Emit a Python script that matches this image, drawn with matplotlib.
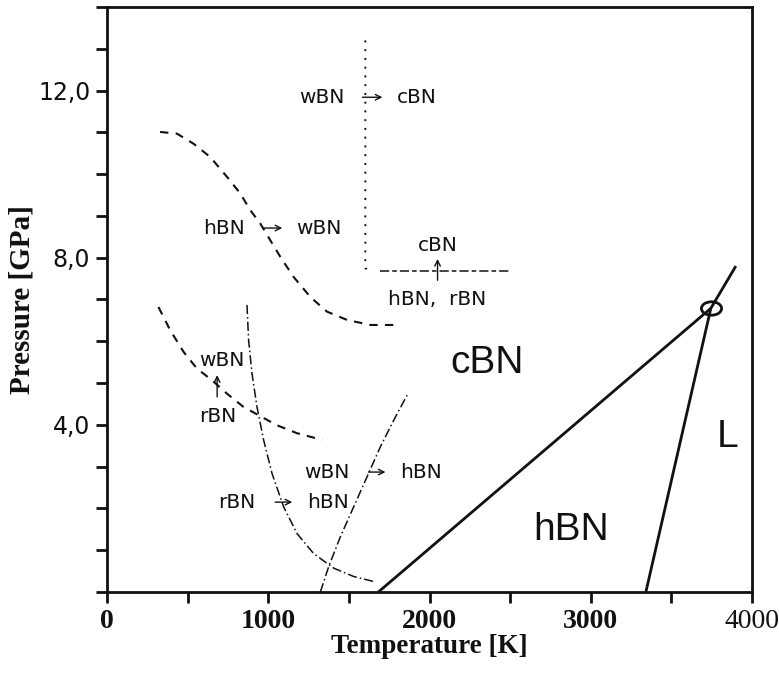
###############################################################################
#  IMPORTS
###############################################################################
import matplotlib
matplotlib.use("Agg")
import matplotlib.pyplot as plt
from matplotlib.path import Path
from matplotlib.transforms import Affine2D

###############################################################################
#  DATA (temperature in K, pressure in GPa)
###############################################################################

# hBN / cBN equilibrium line, through the triple point
HC_T = [1683, 3745, 3900]
HC_P = [0.0, 6.79, 7.80]

# hBN melting line up to the triple point
MELT_T = [3342, 3745]
MELT_P = [0.0, 6.79]

TRIPLE_T = [3745]
TRIPLE_P = [6.79]

# hBN -> wBN kinetic boundary
HW_T = [329, 433, 536, 640, 743, 826, 888, 950, 1012, 1075, 1157, 1261,
        1364, 1489, 1634, 1789]
HW_P = [11.01, 10.97, 10.73, 10.41, 9.94, 9.54, 9.14, 8.82, 8.42, 8.02,
        7.54, 7.06, 6.71, 6.51, 6.39, 6.39]

# rBN -> wBN kinetic boundary
RW_T = [319, 391, 474, 557, 650, 743, 846, 940, 1054, 1178, 1334]
RW_P = [6.82, 6.27, 5.75, 5.35, 5.07, 4.75, 4.43, 4.23, 3.99, 3.80, 3.64]

# rBN -> hBN boundary
RH_T = [868, 878, 899, 930, 971, 1023, 1095, 1178, 1281, 1406, 1530, 1654]
RH_P = [6.87, 6.03, 5.23, 4.43, 3.64, 2.84, 2.04, 1.40, 0.92, 0.57, 0.37, 0.25]

# wBN -> hBN boundary
WH_T = [1323, 1375, 1447, 1530, 1613, 1696, 1778, 1861]
WH_P = [0.0, 0.61, 1.32, 2.04, 2.76, 3.48, 4.11, 4.71]

# wBN -> cBN boundary (vertical) and hBN, rBN -> cBN boundary (horizontal)
WC_T = [1602, 1602, 1630]
WC_P = [13.2, 7.75, 7.68]
HRC_T = [1696, 2491]
HRC_P = [7.68, 7.68]

X_TICKS = [0, 500, 1000, 1500, 2000, 2500, 3000, 3500, 4000]
X_TICK_LABELS = ["0", "", "1000", "", "2000", "", "3000", "", "4000"]
Y_TICKS = list(range(0, 15))
Y_TICK_LABELS = ["4,0" if p == 4 else "8,0" if p == 8 else "12,0" if p == 12 else ""
                 for p in Y_TICKS]

# small transition labels: (text, T, P)
SMALL_LABELS = [
    ("wBN", 1335, 11.84), ("cBN", 1919, 11.84),
    ("hBN", 727, 8.71), ("wBN", 1311, 8.71),
    ("cBN", 2050, 8.30), ("hBN,  rBN", 2050, 6.99),
    ("wBN", 714, 5.55), ("rBN", 689, 4.19),
    ("wBN", 1366, 2.87), ("hBN", 1950, 2.87),
    ("rBN", 807, 2.15), ("hBN", 1373, 2.15),
]
# arrows: (T_start, P_start, T_end, P_end)
ARROWS = [
    (1584, 11.84, 1708, 11.84),
    (969, 8.71, 1087, 8.71),
    (2050, 7.46, 2050, 7.97),
    (683, 4.67, 683, 5.19),
    (1621, 2.87, 1727, 2.87),
    (1043, 2.15, 1149, 2.15),
]
# phase field labels
BIG_LABELS = [("cBN", 2360, 5.48), ("hBN", 2876, 1.48), ("L", 3851, 3.7)]

###############################################################################
#  STYLE CONSTANTS
###############################################################################
FIGSIZE = (7.79, 6.74)
DPI = 100
INK = "#111111"
SANS = "Liberation Sans"
WIDE_SANS = "DejaVu Sans"
SERIF = "Liberation Serif"

# flat ellipse marker for the triple point
ELLIPSE = Path.unit_circle().transformed(Affine2D().scale(1.5, 1.0))

###############################################################################
#  PLOT
###############################################################################
fig = plt.figure(figsize=FIGSIZE, dpi=DPI)
ax = fig.add_axes([0.1374, 0.1217, 0.8279, 0.8679])

ax.plot(HC_T, HC_P, color=INK, lw=2.0, solid_capstyle="butt")
ax.plot(MELT_T, MELT_P, color=INK, lw=2.0, solid_capstyle="butt")
ax.plot(TRIPLE_T, TRIPLE_P, marker=ELLIPSE, ls="none", ms=14.5,
        mfc="none", mec=INK, mew=2.0)

ax.plot(HW_T, HW_P, color=INK, lw=1.5, dashes=(4, 3.5))
ax.plot(RW_T, RW_P, color=INK, lw=1.5, dashes=(4, 3.5))
ax.plot(RH_T, RH_P, color=INK, lw=1.1, dashes=(6, 2, 1, 2))
ax.plot(WH_T, WH_P, color=INK, lw=1.1, dashes=(6, 2, 1, 2))
ax.plot(WC_T, WC_P, color=INK, lw=1.4, dashes=(1, 3.5))
ax.plot(HRC_T, HRC_P, color=INK, lw=1.1, dashes=(6, 2, 3, 2))

for text, t, p in SMALL_LABELS:
    ax.text(t, p, text, fontsize=14.5, family=WIDE_SANS, color=INK,
            ha="center", va="center")
for t0, p0, t1, p1 in ARROWS:
    ax.annotate("", xy=(t1, p1), xytext=(t0, p0),
                arrowprops=dict(arrowstyle="->", lw=1.0, color=INK,
                                shrinkA=0, shrinkB=0, mutation_scale=10))
for text, t, p in BIG_LABELS:
    ax.text(t, p, text, fontsize=28, family=SANS, color=INK,
            ha="center", va="center")

# axes
ax.set_xlim(0, 4000)
ax.set_ylim(0, 14)
ax.set_xticks(X_TICKS)
ax.set_xticklabels(X_TICK_LABELS, family=SERIF, fontsize=20, fontweight="bold")
ax.get_xticklabels()[-1].set_fontweight("normal")
ax.set_yticks(Y_TICKS)
ax.set_yticklabels(Y_TICK_LABELS, family=WIDE_SANS, fontsize=17)
ax.tick_params(direction="out", length=8, width=2, pad=4, colors=INK)

for spine in ax.spines.values():
    spine.set_linewidth(2)
    spine.set_color(INK)

ax.set_xlabel("Temperature [K]", family=SERIF, fontsize=19.5,
              fontweight="bold", labelpad=0, color=INK)
ax.set_ylabel("Pressure [GPa]", family=SERIF, fontsize=21,
              fontweight="bold", labelpad=2, color=INK)

plt.savefig("out.png", dpi=DPI)
